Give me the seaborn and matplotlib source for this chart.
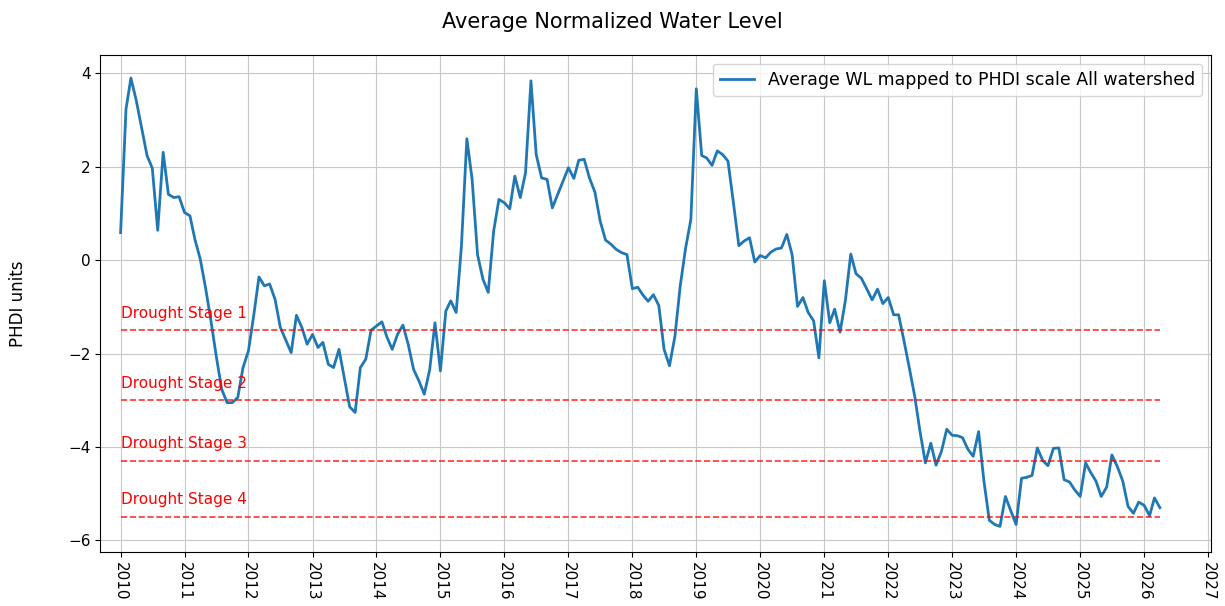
import matplotlib
matplotlib.use("Agg")
import matplotlib.pyplot as plt
import matplotlib.dates as mdates
import numpy as np
import pandas as pd
import seaborn as sns

# monthly values, one list per year
wl_2010 = [0.59, 3.24, 3.9, 3.41, 2.84, 2.24, 1.97, 0.64, 2.31, 1.41, 1.34, 1.36]
wl_2011 = [1.02, 0.95, 0.45, 0.02, -0.59, -1.3, -2.05, -2.76, -3.05, -3.05, -2.94, -2.3]
wl_2012 = [-1.94, -1.16, -0.36, -0.55, -0.51, -0.84, -1.44, -1.71, -1.98, -1.18, -1.44, -1.8]
wl_2013 = [-1.59, -1.87, -1.76, -2.23, -2.3, -1.91, -2.51, -3.14, -3.26, -2.3, -2.12, -1.5]
wl_2014 = [-1.41, -1.32, -1.64, -1.91, -1.59, -1.39, -1.8, -2.34, -2.59, -2.87, -2.34, -1.34]
wl_2015 = [-2.37, -1.09, -0.87, -1.12, 0.3, 2.6, 1.73, 0.12, -0.41, -0.69, 0.62, 1.3]
wl_2016 = [1.23, 1.1, 1.8, 1.34, 1.87, 3.84, 2.26, 1.76, 1.73, 1.12, 1.41, 1.69]
wl_2017 = [1.98, 1.75, 2.14, 2.16, 1.76, 1.46, 0.84, 0.43, 0.34, 0.23, 0.16, 0.12]
wl_2018 = [-0.61, -0.58, -0.74, -0.88, -0.74, -0.97, -1.91, -2.26, -1.63, -0.56, 0.26, 0.87]
wl_2019 = [3.67, 2.24, 2.19, 2.03, 2.34, 2.26, 2.12, 1.23, 0.31, 0.41, 0.48, -0.04]
wl_2020 = [0.1, 0.05, 0.17, 0.24, 0.26, 0.55, 0.12, -0.99, -0.8, -1.12, -1.3, -2.09]
wl_2021 = [-0.44, -1.34, -1.05, -1.54, -0.87, 0.13, -0.29, -0.39, -0.62, -0.85, -0.62, -0.93]
wl_2022 = [-0.8, -1.17, -1.17, -1.73, -2.3, -2.91, -3.66, -4.34, -3.92, -4.39, -4.09, -3.62]
wl_2023 = [-3.75, -3.76, -3.8, -4.05, -4.2, -3.67, -4.72, -5.57, -5.66, -5.7, -5.06, -5.36]
wl_2024 = [-5.66, -4.67, -4.65, -4.61, -4.02, -4.29, -4.4, -4.03, -4.02, -4.7, -4.75, -4.92]
wl_2025 = [-5.06, -4.34, -4.54, -4.73, -5.06, -4.86, -4.17, -4.42, -4.73, -5.27, -5.42, -5.18]
wl_2026 = [-5.25, -5.47, -5.09, -5.3]

stage_levels = [-1.5, -3.0, -4.3, -5.5]
stage_labels = ["Drought Stage 1", "Drought Stage 2", "Drought Stage 3", "Drought Stage 4"]

values = (wl_2010 + wl_2011 + wl_2012 + wl_2013 + wl_2014 + wl_2015 + wl_2016 + wl_2017
          + wl_2018 + wl_2019 + wl_2020 + wl_2021 + wl_2022 + wl_2023 + wl_2024 + wl_2025 + wl_2026)
dates = pd.date_range("2010-01-01", periods=len(values), freq="MS")
df = pd.DataFrame({"date": dates, "wl": values})

fig = plt.figure(figsize=(12.25, 6.06), dpi=100)
ax = fig.add_axes([0.082, 0.089, 0.9066, 0.82])

sns.lineplot(data=df, x="date", y="wl", ax=ax, color="#1f77b4", linewidth=2,
             label="Average WL mapped to PHDI scale All watershed")

# drought stage thresholds
for level, name in zip(stage_levels, stage_labels):
    ax.hlines(level, dates[0], dates[-1], colors="red", linestyles="--", linewidth=1.2, alpha=0.8)
    ax.text(dates[0], level + 0.27, name, color="red", fontsize=11)

ax.xaxis.set_major_locator(mdates.YearLocator())
ax.xaxis.set_major_formatter(mdates.DateFormatter("%Y"))
ax.set_xlim(pd.Timestamp("2009-09-08"), pd.Timestamp("2027-01-18"))
ax.set_ylim(-6.25, 4.39)
plt.setp(ax.get_xticklabels(), rotation=-90, fontsize=11)
plt.setp(ax.get_yticklabels(), fontsize=11)
ax.set_xlabel("")
ax.set_ylabel("PHDI units", fontsize=12, labelpad=30)
ax.grid(True, color="#c8c8c8", linewidth=0.8)
ax.legend(loc="upper right", fontsize=12.5)
fig.suptitle("Average Normalized Water Level", fontsize=15, y=0.98)

fig.savefig("out.png", dpi=100)
